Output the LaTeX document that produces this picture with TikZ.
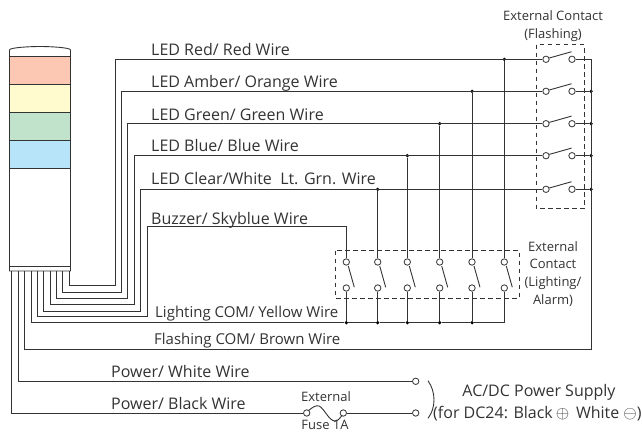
\documentclass[tikz,border=0pt]{standalone}
\usepackage{fontspec}
\setmainfont{Open Sans}
\definecolor{wirecol}{HTML}{333333}
\tikzset{
  wire/.style={draw=wirecol,line width=0.9pt},
  wirelabel/.style={anchor=base west,inner sep=0pt,text=wirecol,font=\fontsize{16}{18}\selectfont},
  comlabel/.style={wirelabel,font=\fontsize{15}{18}\selectfont},
  smalllabel/.style={anchor=base,inner sep=0pt,text=wirecol,font=\fontsize{13}{15}\selectfont},
  terminal/.style={circle,draw=wirecol,fill=white,line width=0.8pt,inner sep=0pt,minimum size=6.4pt},
  joint/.style={circle,fill=black,inner sep=0pt,minimum size=3.6pt},
  contactbox/.style={draw=wirecol,line width=0.8pt,dash pattern=on 4.5pt off 3.5pt},
}
\begin{document}
\begin{tikzpicture}
      [x=1pt,y=-1pt]
      \useasboundingbox (0,0) rectangle (643,439);

      \fill[fill=white] (9.5,57) rectangle (70.5,271);
      \fill[fill={rgb,255:red,252;green,200;blue,180}] (9.5,57) rectangle (70.5,84);
      \fill[fill={rgb,255:red,255;green,251;blue,206}] (9.5,84) rectangle (70.5,112);
      \fill[fill={rgb,255:red,193;green,227;blue,203}] (9.5,112) rectangle (70.5,140);
      \fill[fill={rgb,255:red,184;green,228;blue,250}] (9.5,140) rectangle (70.5,168);
      \draw[wire] (9.5,271) -- (9.5,50) .. controls (9.5,47.5) and (30,46.5) .. (40,46.5)
      .. controls (50,46.5) and (70.5,47.5) .. (70.5,50) -- (70.5,271) -- cycle;
      \foreach \y in {56.8,84,112,140,168,266} {
        \draw[wire] (9.5,\y) -- (70.5,\y);
      }

      \foreach \i/\y in {1/59.3,2/91.3,3/123.7,4/155.7,5/189.3} {
        \node[terminal] (fl\i) at (546,\y) {};
        \node[terminal] (fr\i) at (572,\y) {};
        \draw[wire] (549.3,\y-1.3) -- (571.6,\y-7.6);
      }
      \foreach \i/\x in {1/346.3,2/377.7,3/407.3,4/439.7,5/472,6/504.3} {
        \node[terminal] (lu\i) at (\x,262) {};
        \node[terminal] (ld\i) at (\x,288) {};
        \draw[wire] (\x+2,266) -- (\x+8,287.3);
      }
      \foreach \i/\j in {2/5,3/4,4/3,5/2,6/1} {
        \node[joint] (tj\i) at (lu\i |- fl\j) {};
        \draw[wire] (tj\i) -- (lu\i);
      }
      \foreach \i/\x in {1/346.3,2/377.7,3/407.3,4/439.7,5/472} {
        \node[joint] (cj\i) at (\x,322.7) {};
        \draw[wire] (ld\i) -- (cj\i);
      }
      \foreach \i/\y in {2/91.3,3/123.7,4/155.7,5/189.3} {
        \node[joint] (rj\i) at (591,\y) {};
        \draw[wire] (fr\i) -- (rj\i);
      }

      \foreach \n/\x in {a/11.7,b/18,c/24.7,d/31,e/37.3,f/43.3,g/50,h/56.3,i/62.7,j/69} {
        \coordinate (lamp\n) at (\x,271);
      }

      \draw[wire] (lampj) -- (69,285.3) -- (115,285.3) |- (fl1);
      \draw[wire] (lampi) -- (62.7,292) -- (121.3,292) |- (fl2);
      \draw[wire] (lamph) -- (56.3,298.3) -- (127.7,298.3) |- (fl3);
      \draw[wire] (lampg) -- (50,304.7) -- (134.3,304.7) |- (fl4);
      \draw[wire] (lampf) -- (43.3,311) -- (140,311) |- (fl5);
      \draw[wire] (lampe) -- (37.3,316.3) -- (147,316.3) -- (147,226.5) -| (lu1);
      \draw[wire] (lampd) |- (cj1) -- (cj2) -- (cj3) -- (cj4) -- (cj5) -| (ld6);
      \draw[wire] (lampc) |- (591,349) |- (fr1);
      \draw[wire] (591,349) -- (rj5) -- (rj4) -- (rj3) -- (rj2);

      \node[terminal] (pw) at (415.7,381.3) {};
      \node[terminal] (pb) at (415.7,413) {};
      \node[terminal] (fa) at (306.7,413) {};
      \node[terminal] (fb) at (343.3,413) {};
      \draw[wire] (lampb) |- (pw);
      \draw[wire] (lampa) |- (fa);
      \draw[wire] (fb) -- (pb);
      \draw[wire] (308.5,410.5) .. controls (313,407) and (316,405) .. (319,406)
      .. controls (324,408) and (329,421) .. (335,421)
      .. controls (338,421) and (340,418) .. (342,415.5);
      \draw[wire] (428,380.7) .. controls (436,392) and (436,408) .. (428,418.3);

      \draw[contactbox] (536,44.7) rectangle (584,208.7);
      \draw[contactbox] (335.3,250.7) rectangle (519.3,298);

      \node[wirelabel] (redw) at (151,55) {LED Red/ Red Wire};
      \node[wirelabel] (ambw) at (151,87) {LED Amber/ Orange Wire};
      \node[wirelabel] (grnw) at (151,120) {LED Green/ Green Wire};
      \node[wirelabel] (bluw) at (151,151) {LED Blue/ Blue Wire};
      \node[wirelabel] (clrw) at (151,184) {LED Clear/White\ \ Lt. Grn. Wire};
      \node[wirelabel] (buzw) at (151,224) {Buzzer/ Skyblue Wire};
      \node[comlabel] (ligw) at (155,317) {Lighting COM/ Yellow Wire};
      \node[comlabel] (flaw) at (154,344) {Flashing COM/ Brown Wire};
      \node[wirelabel] (whtw) at (111,377) {Power/ White Wire};
      \node[wirelabel] (blkw) at (111,409) {Power/ Black Wire};

      \node[smalllabel] (fuse1) at (326,401) {External};
      \node[smalllabel] (fuse2) at (325,429) {Fuse 1A};
      \node[smalllabel] (flc1) at (553,20) {External Contact};
      \node[smalllabel] (flc2) at (553,38) {(Flashing)};
      \node[smalllabel] (lic1) at (553,251) {External};
      \node[smalllabel] (lic2) at (553,268) {Contact};
      \node[smalllabel] (lic3) at (553,286) {(Lighting/};
      \node[smalllabel] (lic4) at (553,304) {Alarm)};

      \node[wirelabel,anchor=base] (psu1) at (539,396) {AC/DC Power Supply};
      \node[wirelabel] (psu2) at (433,418) {(for DC24: Black$\,\oplus$\ \,White $\ominus$)};
\end{tikzpicture}
\end{document}
